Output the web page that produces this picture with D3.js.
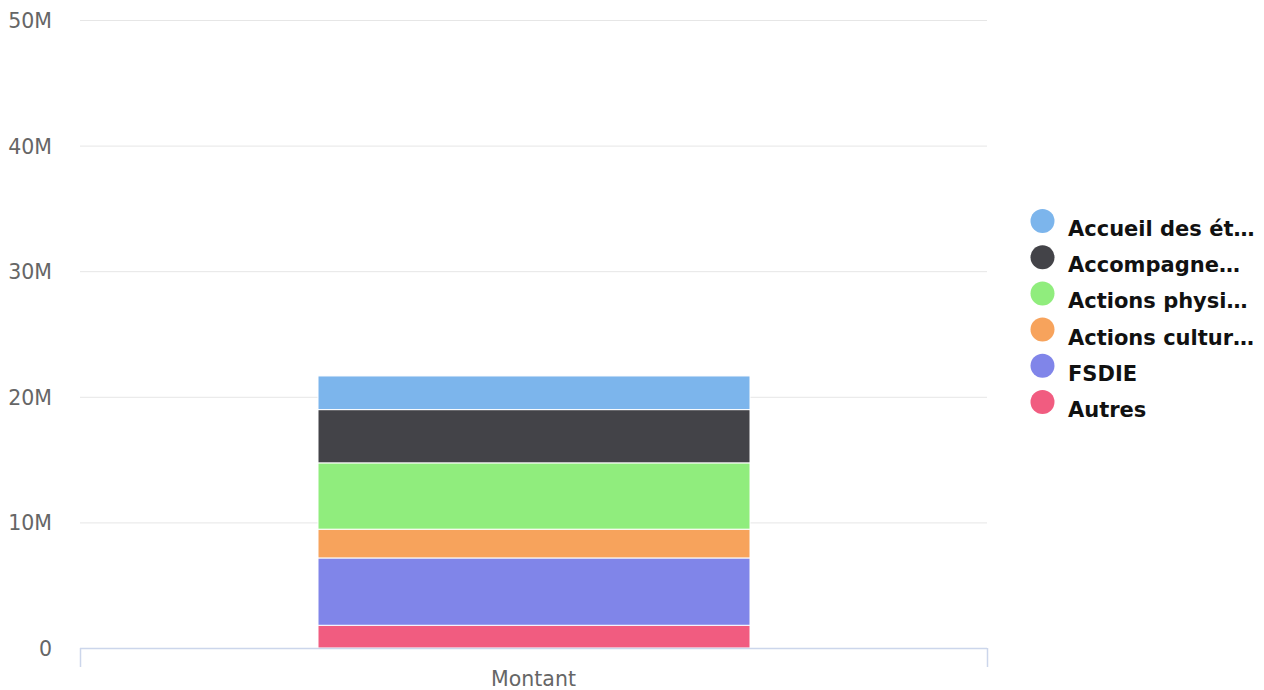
<!DOCTYPE html>
<html><head><meta charset="utf-8">
<script src="https://cdn.jsdelivr.net/npm/d3@7"></script>
<style>body{margin:0;background:#fff}svg{display:block}</style>
</head><body>
<svg id="c" width="1264" height="690"></svg>
<script>
const categories = ["Montant"];
const seriesNames = ["Accueil des ét…", "Accompagne…", "Actions physi…", "Actions cultur…", "FSDIE", "Autres"];
const seriesValues = [2.68e6, 4.24e6, 5.28e6, 2.29e6, 5.36e6, 1.81e6];
const seriesColors = ["#7cb5ec", "#434348", "#90ed7d", "#f7a35c", "#8085e9", "#f15c80"];
const yTicks = [0, 1e7, 2e7, 3e7, 4e7, 5e7];
const yTickLabels = ["0", "10M", "20M", "30M", "40M", "50M"];

(function () {
const svg = d3.select("#c");
const pL = 80, pR = 987, pT = 20, pB = 648;
const font = "'DejaVu Sans', Verdana, sans-serif";

const y = d3.scaleLinear().domain([0, 5e7]).range([pB, pT]);
const x = d3.scaleBand().domain(categories).range([pL, pR]).paddingInner(0).paddingOuter(0.26);

svg.append("g").selectAll("line").data(yTicks).join("line")
  .attr("x1", pL).attr("x2", pR)
  .attr("y1", d => y(d) + 0.5).attr("y2", d => y(d) + 0.5)
  .attr("stroke", "#e6e6e6").attr("stroke-width", 1);

svg.append("g").selectAll("text").data(yTicks).join("text")
  .attr("x", 52).attr("y", d => y(d) + 8)
  .attr("text-anchor", "end").attr("fill", "#666")
  .style("font-family", font).style("font-size", "20.5px")
  .text((d, i) => yTickLabels[i]);

const order = seriesNames.map((n, i) => i).reverse();
let cum = 0;
const stacks = order.map(i => { const s = { i, y0: cum, y1: cum + seriesValues[i] }; cum += seriesValues[i]; return s; });
const bw = 432;
svg.append("g").selectAll("rect").data(stacks).join("rect")
  .attr("x", x("Montant") + x.bandwidth() / 2 - bw / 2 + 0.5)
  .attr("width", bw)
  .attr("y", d => y(d.y1))
  .attr("height", d => y(d.y0) - y(d.y1))
  .attr("fill", d => seriesColors[d.i])
  .attr("stroke", "#fff").attr("stroke-width", 1);

const xa = svg.append("g");
xa.append("line").attr("x1", pL).attr("x2", pR).attr("y1", pB + 0.5).attr("y2", pB + 0.5)
  .attr("stroke", "#ccd6eb").attr("stroke-width", 1.5);
[pL, pR].forEach(px => xa.append("line").attr("x1", px + 0.5).attr("x2", px + 0.5)
  .attr("y1", pB).attr("y2", pB + 19).attr("stroke", "#ccd6eb").attr("stroke-width", 1.5));
xa.selectAll("text.cat").data(categories).join("text").attr("class", "cat")
  .attr("x", d => x(d) + x.bandwidth() / 2).attr("y", 686)
  .attr("text-anchor", "middle").attr("fill", "#666")
  .style("font-family", font).style("font-size", "20.5px").text(d => d);

const lg = svg.append("g").selectAll("g").data(seriesNames).join("g")
  .attr("transform", (d, i) => `translate(1042.5,${221 + i * 36.2})`);
lg.append("circle").attr("r", 12).attr("fill", (d, i) => seriesColors[i]);
lg.append("text").attr("x", 25.5).attr("y", 15).attr("fill", "#111")
  .style("font-family", font).style("font-size", "21px").style("font-weight", "bold")
  .text(d => d);
})();
</script>
</body></html>
